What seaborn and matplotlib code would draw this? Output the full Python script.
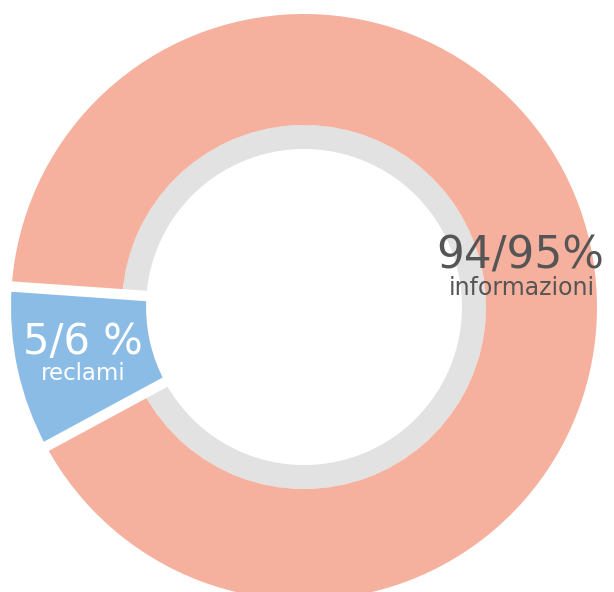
import numpy as np
import matplotlib.pyplot as plt
import seaborn as sns

# shares as drawn in the ring (labels show the rounded ranges)
categories = ['informazioni', 'reclami']
shares = [91, 9]
share_labels = ['94/95%', '5/6 %']
colors = ['#F6B09E', '#8BBCE6']
ring_gray = '#E2E2E2'
text_colors = ['#555555', '#FFFFFF']


def main():
    sns.set_theme(style="white")
    plt.rcParams['font.family'] = ['DejaVu Sans']

    fig = plt.figure(figsize=(6.14, 5.92), dpi=100)
    ax = fig.add_axes([0, 0, 1, 1])

    center = (304, 285)
    outer = 293

    # thin gray inner ring
    ax.pie([1], colors=[ring_gray], radius=182, center=center,
           wedgeprops=dict(width=24, linewidth=0))

    # main donut
    wedges, _ = ax.pie(shares, colors=colors, radius=outer, center=center,
                       startangle=208.4, counterclock=True,
                       wedgeprops=dict(width=outer - 182, linewidth=0))
    # the small slice reaches further in, over the gray ring
    wedges[1].set_width(outer - 158)

    # white separators between slices
    for ang in [wedges[1].theta1, wedges[1].theta2]:
        t = np.deg2rad(ang)
        r = np.array([140, outer + 10])
        ax.plot(center[0] + r * np.cos(t), center[1] + r * np.sin(t),
                color='white', lw=7.5, solid_capstyle='butt')

    # labels
    ax.text(520, 324, share_labels[0], ha='center', va='baseline',
            fontsize=31.5, color=text_colors[0])
    ax.text(522, 297, categories[0], ha='center', va='baseline',
            fontsize=17, color=text_colors[0])
    ax.text(83, 238, share_labels[1], ha='center', va='baseline',
            fontsize=30, color=text_colors[1])
    ax.text(83, 212, categories[1], ha='center', va='baseline',
            fontsize=16.5, color=text_colors[1])

    ax.set_xlim(0, 614)
    ax.set_ylim(0, 592)
    ax.set_aspect('equal')
    ax.axis('off')

    fig.savefig('out.png', dpi=100, facecolor='white')
    plt.close(fig)


if __name__ == "__main__":
    main()
